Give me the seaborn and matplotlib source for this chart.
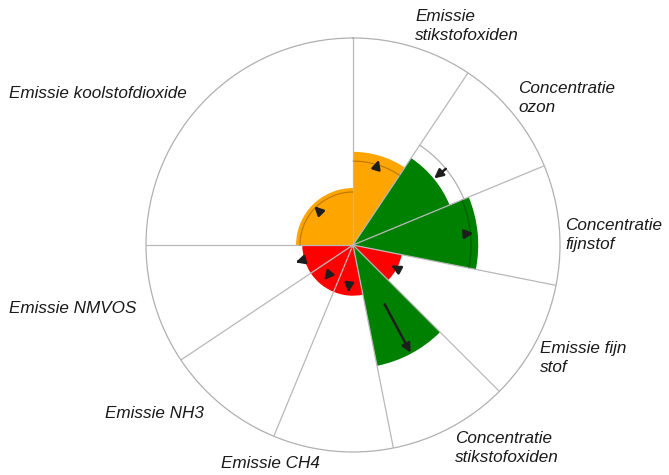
import numpy as np
import matplotlib
matplotlib.use("Agg")
import matplotlib.pyplot as plt
import seaborn as sns

# sectors, clockwise from north
labels = ["Emissie\nstikstofoxiden", "Concentratie\nozon", "Concentratie\nfijnstof",
          "Emissie fijn\nstof", "Concentratie\nstikstofoxiden", "Emissie CH4",
          "Emissie NH3", "Emissie NMVOS", "Emissie koolstofdioxide"]
widths = [33.75, 33.75, 33.75, 33.75, 33.75, 33.75, 33.75, 33.75, 90.0]
values = [45.0, 50.5, 60.5, 24.0, 59.5, 24.5, 24.5, 24.5, 27.5]
status = ["matig", "goed", "goed", "slecht", "goed", "slecht", "slecht", "slecht", "matig"]
previous = [40.5, 58.0, 57.0, None, None, None, None, None, 25.6]
trend_from = [40.5, 58.0, 56.0, 22.5, 32.5, 21.0, 20.0, 27.0, 24.0]
trend_to = [43.0, 50.7, 58.5, 21.0, 59.0, 23.0, 22.0, 29.0, 26.5]

status_colors = {"goed": "#008000", "matig": "#FFA500", "slecht": "#FF0000"}

# label anchor (left, top) in pixels
label_pos = [(415, 9), (518, 81), (565, 218), (540, 341), (455, 431),
             (221, 456), (105, 406), (9, 301), (9, 86)]

sns.set_style("white")
plt.rcParams["font.family"] = ["Liberation Sans", "DejaVu Sans"]

W, H = 669, 475
fig = plt.figure(figsize=(W / 100, H / 100), dpi=100)
cx, cy, R = 353, 245, 207
ax = fig.add_axes([(cx - R) / W, 1 - (cy + R) / H, 2 * R / W, 2 * R / H], projection="polar")
ax.set_theta_zero_location("N")
ax.set_theta_direction(-1)
ax.set_ylim(0, 100)
ax.grid(False)
ax.set_xticks([])
ax.set_yticks([])
ax.spines["polar"].set_color("#b0b0b0")
ax.spines["polar"].set_linewidth(0.9)

starts = np.concatenate([[0], np.cumsum(widths)[:-1]])
mids = starts + np.array(widths) / 2

ax.bar(np.deg2rad(mids), values, width=np.deg2rad(widths), bottom=0,
       color=[status_colors[s] for s in status], linewidth=0, zorder=2)

# sector boundaries
for s in starts:
    ax.plot([np.deg2rad(s)] * 2, [0, 100], color="#b8b8b8", lw=0.9, zorder=3)

# previous value arcs
for s, w, p, v in zip(starts, widths, previous, values):
    if p is None:
        continue
    th = np.deg2rad(np.linspace(s, s + w, 60))
    col = "#b0b0b0" if p > v else "#000000"
    alpha = 1.0 if p > v else 0.25
    ax.plot(th, [p] * len(th), color=col, alpha=alpha, lw=0.9, zorder=3)

# trend arrows
for m, a, b in zip(mids, trend_from, trend_to):
    ax.annotate("", xy=(np.deg2rad(m), b), xytext=(np.deg2rad(m), a),
                arrowprops=dict(arrowstyle="-|>", color="#1e1e1e", lw=1.8,
                                mutation_scale=13, shrinkA=0, shrinkB=0),
                zorder=4)

for lab, (x, y) in zip(labels, label_pos):
    fig.text(x / W, 1 - y / H, lab, ha="left", va="top", fontsize=12.3,
             style="italic", color="#1a1a1a", linespacing=1.3)

fig.savefig("out.png", dpi=100)
